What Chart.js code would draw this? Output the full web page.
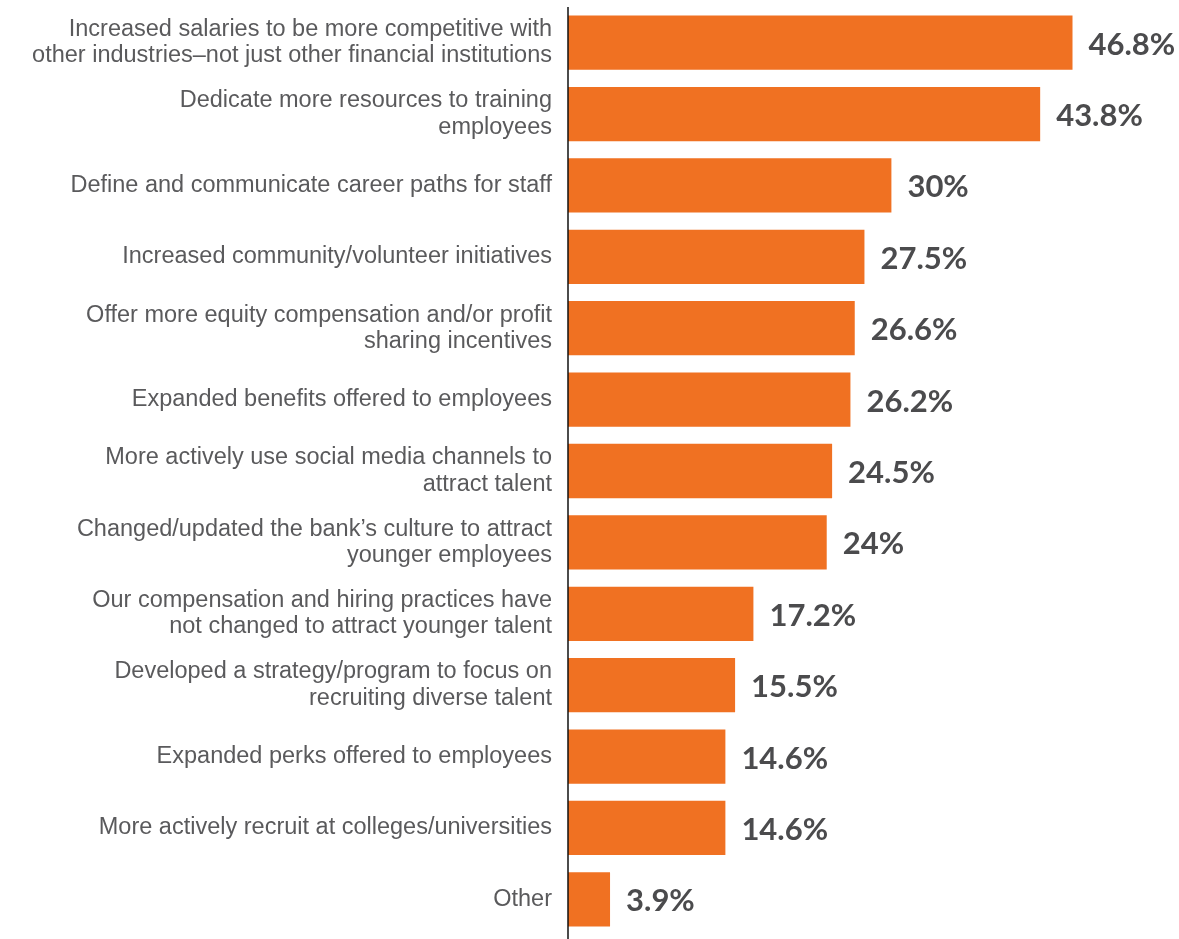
<!DOCTYPE html>
<html>
<head>
<meta charset="utf-8">
<script src="https://cdn.jsdelivr.net/npm/chart.js@4"></script>
<style>
  html, body { margin: 0; padding: 0; background: #fff; }
  #wrap { width: 1179px; height: 939px; }
</style>
</head>
<body>
<div id="wrap"><canvas id="retentionChart"></canvas></div>
<script>
const categories = [
  ['Increased salaries to be more competitive with', 'other industries\u2013not just other financial institutions'],
  ['Dedicate more resources to training', 'employees'],
  'Define and communicate career paths for staff',
  'Increased community/volunteer initiatives',
  ['Offer more equity compensation and/or profit', 'sharing incentives'],
  'Expanded benefits offered to employees',
  ['More actively use social media channels to', 'attract talent'],
  ['Changed/updated the bank\u2019s culture to attract', 'younger employees'],
  ['Our compensation and hiring practices have', 'not changed to attract younger talent'],
  ['Developed a strategy/program to focus on', 'recruiting diverse talent'],
  'Expanded perks offered to employees',
  'More actively recruit at colleges/universities',
  'Other'
];
const values = [46.8, 43.8, 30, 27.5, 26.6, 26.2, 24.5, 24, 17.2, 15.5, 14.6, 14.6, 3.9];
const valueLabels = ['46.8%', '43.8%', '30%', '27.5%', '26.6%', '26.2%', '24.5%', '24%', '17.2%', '15.5%', '14.6%', '14.6%', '3.9%'];

const valueLabelPlugin = {
  id: 'valueLabels',
  afterDatasetsDraw(chart) {
    const ctx = chart.ctx;
    const meta = chart.getDatasetMeta(0);
    ctx.save();
    ctx.font = 'bold 31px Lato';
    ctx.fillStyle = '#4b4b4d';
    ctx.textAlign = 'left';
    ctx.textBaseline = 'middle';
    meta.data.forEach((bar, i) => {
      ctx.fillText(valueLabels[i], bar.x + 16, bar.y + 2);
    });
    // vertical axis line
    const x = chart.scales.x.getPixelForValue(0);
    ctx.strokeStyle = '#111';
    ctx.lineWidth = 1.5;
    ctx.beginPath();
    ctx.moveTo(x, chart.chartArea.top);
    ctx.lineTo(x, chart.height);
    ctx.stroke();
    ctx.restore();
  }
};

new Chart(document.getElementById('retentionChart'), {
  type: 'bar',
  data: {
    labels: categories,
    datasets: [
      {
        data: values,
        backgroundColor: '#f07122',
        borderWidth: 0,
        barPercentage: 0.76,
        categoryPercentage: 1
      }
    ]
  },
  options: {
    indexAxis: 'y',
    responsive: true,
    maintainAspectRatio: false,
    animation: false,
    layout: {
      padding: { top: 7, bottom: 4, right: 72, left: 0 }
    },
    plugins: {
      legend: { display: false },
      tooltip: { enabled: false }
    },
    scales: {
      x: {
        display: false,
        min: 0,
        max: 50
      },
      y: {
        afterFit(scale) {
          scale.width = 568;
          scale.paddingTop = 0;
          scale.paddingBottom = 0;
        },
        grid: { display: false, drawTicks: false },
        border: { display: false },
        ticks: {
          padding: 16,
          color: '#5a5a5c',
          font: { family: 'Liberation Sans', size: 23.5, lineHeight: 1.12 }
        }
      }
    }
  },
  plugins: [valueLabelPlugin]
});
</script>
</body>
</html>
